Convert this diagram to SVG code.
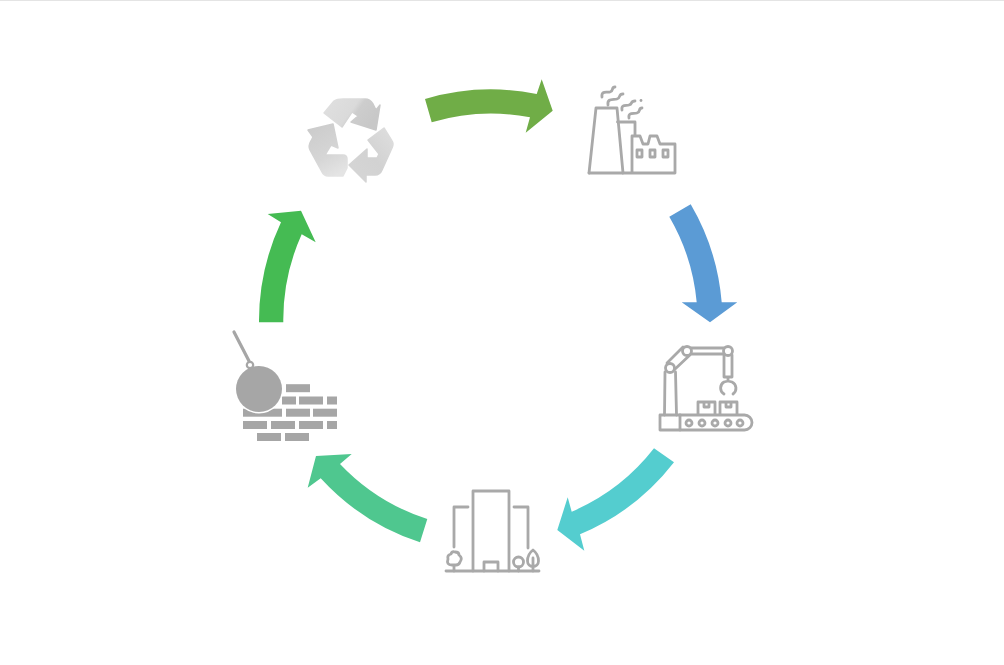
<svg xmlns="http://www.w3.org/2000/svg" width="1004" height="665" viewBox="0 0 1004 665">
<style>
.ln{fill:none;stroke:#a9a9a9;stroke-width:2.800;stroke-linejoin:round;stroke-linecap:round}
.fl{fill:#a6a6a6}
</style>
<defs>
<filter id="soft" x="-5%" y="-5%" width="110%" height="110%"><feGaussianBlur stdDeviation="0.45"/></filter>
<filter id="softer" x="-5%" y="-5%" width="110%" height="110%"><feGaussianBlur stdDeviation="0.5"/></filter>
<linearGradient id="g1" x1="0" y1="0" x2="1" y2="0.4"><stop offset="0" stop-color="#e0e0e0"/><stop offset="0.55" stop-color="#dadada"/><stop offset="0.65" stop-color="#cdcdcd"/><stop offset="1" stop-color="#c8c8c8"/></linearGradient>
<linearGradient id="g2" x1="0.3" y1="0" x2="0.7" y2="1"><stop offset="0" stop-color="#cccccc"/><stop offset="0.6" stop-color="#d6d6d6"/><stop offset="1" stop-color="#e4e4e4"/></linearGradient>
<linearGradient id="g3" x1="1" y1="0" x2="0" y2="1"><stop offset="0" stop-color="#dfdfdf"/><stop offset="0.5" stop-color="#d2d2d2"/><stop offset="1" stop-color="#d6d6d6"/></linearGradient>
</defs>
<rect width="1004" height="665" fill="#fff"/>
<rect width="1004" height="1" fill="#e4e4e4"/>
<g id="connectors">
<path id="arrow-recycle-factory" fill="#70ad47" d="M425 99A232 232 0 0 1 536.700 94L541.700 79.300 552.700 110.700 525.700 132.700 530 117.300A207.500 207.500 0 0 0 431.700 122.300Z"/>
<path id="arrow-factory-robot" fill="#5b9bd5" d="M669.300 216.700L690.700 204.300A232 232 0 0 1 721.700 302.300L737.300 302.300 710 322.300 681.700 302.300 696.700 302.300A207.500 207.500 0 0 0 669.300 216.700Z"/>
<path id="arrow-robot-building" fill="#54cdcf" d="M654 448.300L674 462.300A232 232 0 0 1 580 534.300L584.300 550.700 557.300 530 567.700 497.300 571.700 511.700A207.500 207.500 0 0 0 654 448.300Z"/>
<path id="arrow-building-demolition" fill="#4fc78f" d="M427.300 519L420 542.300A232 232 0 0 1 320.700 478.300L307.700 487.700 316 456 351.700 454 340 464A207.500 207.500 0 0 0 427.300 519Z"/>
<path id="arrow-demolition-recycle" fill="#45bb53" d="M259 322.300A232 232 0 0 1 281 222.300L267.700 214 301 210.700 315.700 242.300 301.700 234.300A207.500 207.500 0 0 0 283.300 322.300Z"/>
</g>
<g id="node-recycle" filter="url(#softer)">
<path fill="url(#g1)" stroke="url(#g1)" stroke-width="1.500" stroke-linejoin="round" d="M324 113L334 101Q337 99 343 99L365 99Q370 99 373 104L376 110 380 105 376 130 351 122 358 116 352 112 342 127Z"/>
<path fill="url(#g2)" stroke="url(#g2)" stroke-width="1.500" stroke-linejoin="round" d="M308 130L333 124 338 148 331 145 325 155 343 155Q347 155 347 159L347 168 343 176 328 176Q324 176 322 172L310 150Q308 146 311 141L313 137Z"/>
<path fill="url(#g3)" stroke="url(#g3)" stroke-width="1.500" stroke-linejoin="round" d="M384 128L392 141Q394 144 392 148L382 170Q380 175 375 175L366 175 366 182 349 165 367 149 367 158 377 158 379 154 368 140Z"/>
</g>
<g id="node-factory" filter="url(#soft)">
<path class="ln" d="M589 173L675 173L675 144L660 144L657 136L650 136L648 144L643 144L640 136L632 136L632 173"/>
<path class="ln" d="M589 173L596 108L617 108L623 173"/>
<path class="ln" d="M617.500 122L635 122L635 135"/>
<rect class="ln" x="637" y="150" width="5" height="7"/>
<rect class="ln" x="650" y="150" width="5" height="7"/>
<rect class="ln" x="663" y="150" width="5" height="7"/>
<path class="ln" d="M602 97C601 90 607 93 610 92C614 91 611 87 615 87"/>
<path class="ln" d="M608 105C607 98 613 100 617 99C621 98 618 94 623 94"/>
<path class="ln" d="M622 110C621 104 626 106 629 105C633 104 630 101 635 101"/>
<path class="ln" d="M629 118C628 112 633 114 637 113C641 112 638 108 642 108"/>
<circle class="fl" cx="641" cy="100.500" r="1.400"/>
</g>
<g id="node-robot" filter="url(#soft)">
<path class="ln" d="M660 415H744.500A7.500 7.500 0 0 1 744.500 430H660Z"/>
<path class="ln" d="M680 415V430"/>
<circle class="ln" cx="689" cy="423" r="3"/>
<circle class="ln" cx="702" cy="423" r="3"/>
<circle class="ln" cx="715" cy="423" r="3"/>
<circle class="ln" cx="728" cy="423" r="3"/>
<circle class="ln" cx="740" cy="423" r="3"/>
<path class="ln" d="M664.500 415L665 372M676.500 415L675.500 372"/>
<path class="ln" d="M667 363L683 347M674 370L691 354M691 348H724M691 354H724"/>
<path class="ln" d="M724 355V377H732V355"/>
<circle class="ln" cx="670" cy="368" r="4.500" style="fill:#fff"/>
<circle class="ln" cx="687" cy="351" r="4.500" style="fill:#fff"/>
<circle class="ln" cx="728" cy="351" r="4.500" style="fill:#fff"/>
<path class="ln" d="M728 378V381L724 382A7 7 0 0 0 724 394M728 381L732 382A7 7 0 0 1 733 394"/>
<path class="ln" d="M698 414V402H715V414M704 402V407H709V402"/>
<path class="ln" d="M720 414V402H737V414M726 402V407H731V402"/>
</g>
<g id="node-building" filter="url(#soft)">
<path class="ln" d="M446 571H539"/>
<path class="ln" d="M473 571V491H509V571"/>
<path class="ln" d="M484 571V562H498V571"/>
<path class="ln" d="M468 507H454V547"/>
<path class="ln" d="M514 507H528V548"/>
<path class="ln" d="M454 571V565M452 565Q446 565 448 559Q447 555 451 554Q452 551 455 552Q459 552 459 555Q463 558 460 562Q459 565 456 565Z"/>
<circle class="ln" cx="518.500" cy="562" r="5"/>
<path class="ln" d="M518.500 567V571"/>
<path class="ln" d="M533 550C537 553 538.500 558 538.500 561A5.500 5.500 0 0 1 527.500 561C527.500 558 529 553 533 550ZM533 558V571"/>
</g>
<g id="node-demolition" filter="url(#soft)">
<path d="M234 332L249 361" fill="none" stroke="#a6a6a6" stroke-width="3.200" stroke-linecap="round"/>
<rect class="fl" x="286" y="384.200" width="24" height="8"/>
<rect class="fl" x="282" y="396.500" width="14" height="8"/>
<rect class="fl" x="299" y="396.500" width="24" height="8"/>
<rect class="fl" x="327" y="396.500" width="10" height="8"/>
<rect class="fl" x="243" y="408.700" width="39" height="8"/>
<rect class="fl" x="286" y="408.700" width="24" height="8"/>
<rect class="fl" x="313" y="408.700" width="24" height="8"/>
<rect class="fl" x="243" y="421" width="24" height="8"/>
<rect class="fl" x="271" y="421" width="24" height="8"/>
<rect class="fl" x="299" y="421" width="24" height="8"/>
<rect class="fl" x="327" y="421" width="10" height="8"/>
<rect class="fl" x="257" y="433" width="24" height="8"/>
<rect class="fl" x="285" y="433" width="24" height="8"/>
<circle cx="259" cy="389" r="23" fill="#a6a6a6" stroke="#fff" stroke-width="3" paint-order="stroke"/>
<circle cx="250" cy="365" r="3.200" fill="#fff" stroke="#a6a6a6" stroke-width="2.200"/>
</g>
</svg>
